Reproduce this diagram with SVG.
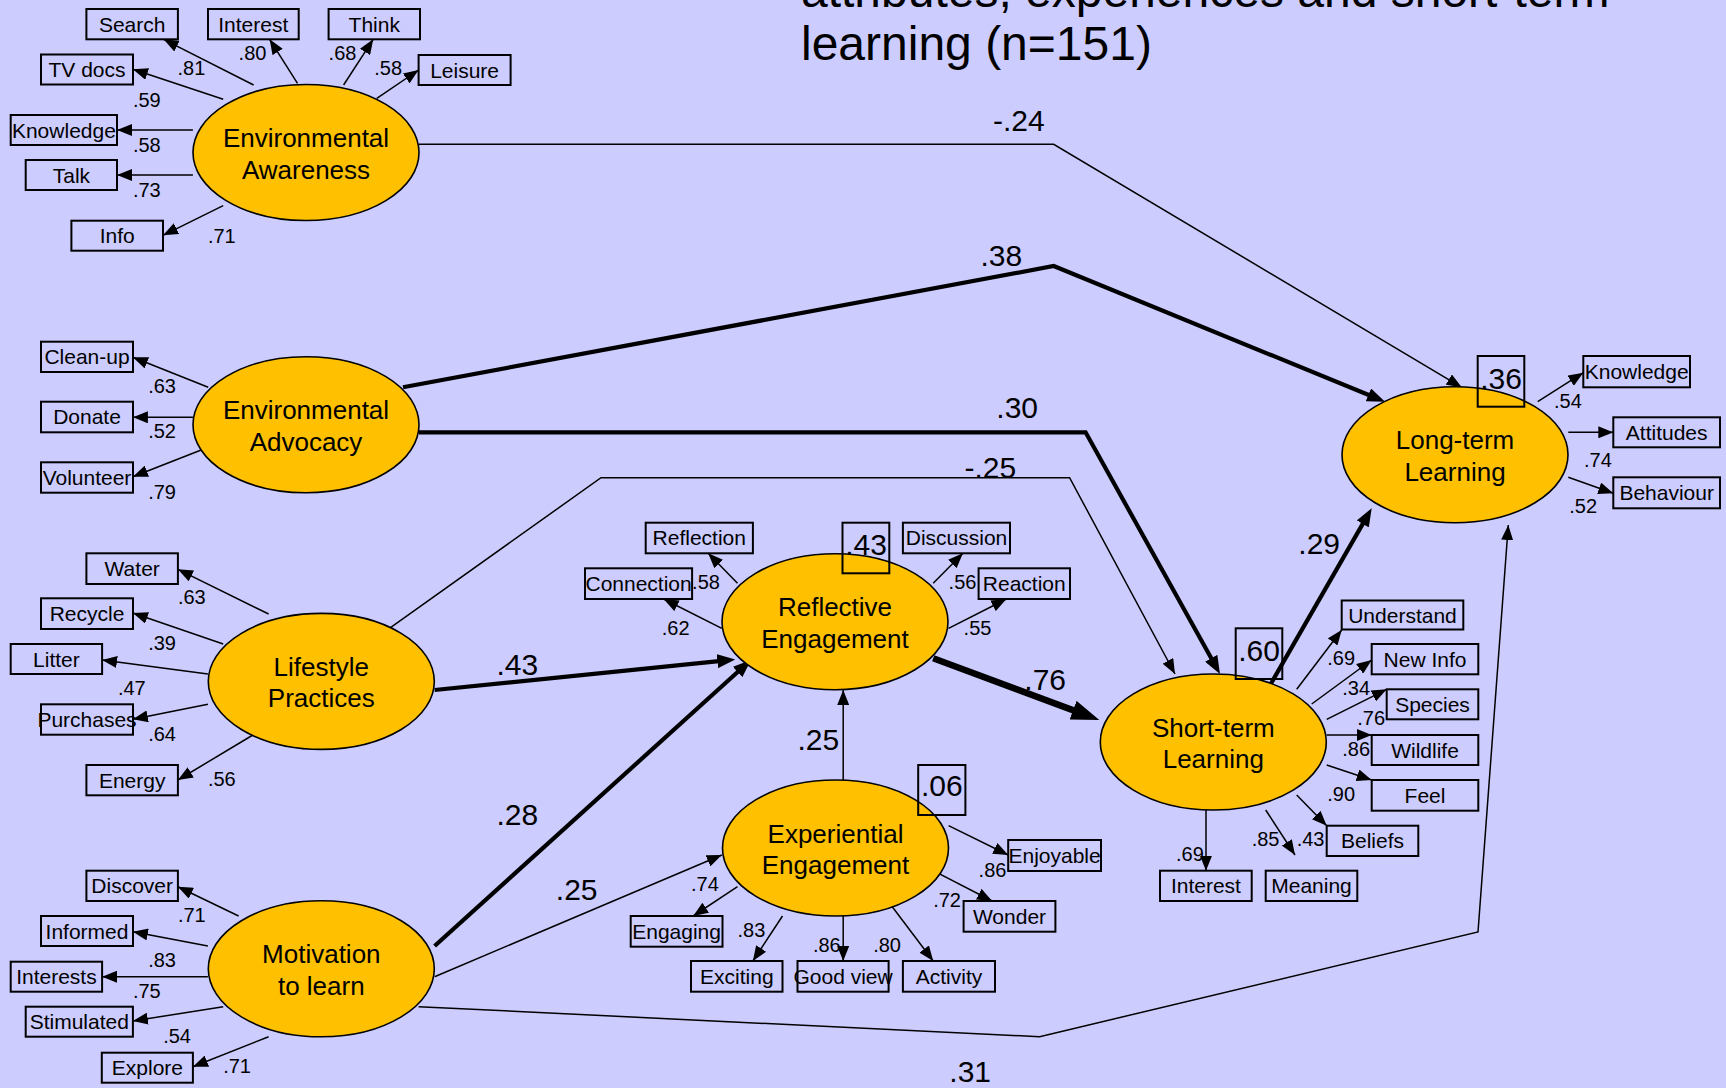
<svg xmlns="http://www.w3.org/2000/svg" width="1726" height="1088" viewBox="0 0 1726 1088">
<style>
text{font-family:"Liberation Sans",Arial,sans-serif;fill:#000}
.lat{fill:#FFC000;stroke:#000;stroke-width:1.6}
.lt{font-size:26px;text-anchor:middle}
.obs{fill:none;stroke:#000;stroke-width:2}
.ot{font-size:21px;text-anchor:middle}
.r2{fill:none;stroke:#000;stroke-width:2}
.rt{font-size:30px;text-anchor:middle}
.ld{font-size:20px}
.big{font-size:30px}
.title{font-size:48px}
.c{fill:none;stroke:#000;stroke-width:1.5;marker-end:url(#ah)}
.ct{fill:none;stroke:#000;stroke-width:4.2;marker-end:url(#aht)}
.cx{fill:none;stroke:#000;stroke-width:6.5;marker-end:url(#ahx)}
</style>
<defs>
<marker id="ah" markerUnits="userSpaceOnUse" markerWidth="15" markerHeight="12" refX="15" refY="6" orient="auto"><path d="M0,0 L15,6 L0,12 z" fill="#000"/></marker>
<marker id="aht" markerUnits="userSpaceOnUse" markerWidth="18" markerHeight="14" refX="9" refY="7" orient="auto"><path d="M0,0 L18,7 L0,14 z" fill="#000"/></marker>
<marker id="ahx" markerUnits="userSpaceOnUse" markerWidth="28" markerHeight="20" refX="14" refY="10" orient="auto"><path d="M0,0 L28,10 L0,20 z" fill="#000"/></marker>
</defs>
<rect x="0" y="0" width="1726" height="1088" fill="#CCCCFF"/>
<g id="title">
<text class="title" x="801" y="7">attributes, experiences and short-term</text>
<text class="title" x="801" y="60">learning (n=151)</text>
</g>

<g id="connectors">
<path class="c" d="M419,144.3 L1053.7,144.3 L1461.7,387.3"/>
<path class="ct" d="M403,387.3 L1053.7,266 L1376.7,398.3"/>
<path class="ct" d="M419,432.3 L1085.6,432.3 L1215.6,666.1"/>
<path class="c" d="M390.8,627.4 L601,477.7 L1069.6,477.7 L1175,674"/>
<path class="ct" d="M434.6,690 L726.3,660.3"/>
<path class="ct" d="M434.6,946 L744.3,666"/>
<path class="c" d="M434.6,976.7 L721.8,855"/>
<path class="c" d="M418.6,1006.7 L1039.6,1036.7 L1478,932 L1508.3,525"/>
<path class="c" d="M843.2,780 L843.2,690"/>
<path class="cx" d="M933.2,658.3 L1086.2,715.1"/>
<path class="ct" d="M1268.3,688.3 L1367.2,516.1"/>
<path class="c" d="M253.6,85 L163.6,39.3"/>
<path class="c" d="M297.5,83.3 L269.6,39.3"/>
<path class="c" d="M343.6,85 L373.2,39.3"/>
<path class="c" d="M376.8,98.3 L418.6,70"/>
<path class="c" d="M223.2,99.3 L132.9,69.3"/>
<path class="c" d="M192.9,130 L117,130"/>
<path class="c" d="M192.9,175 L117,175"/>
<path class="c" d="M223.2,205.7 L163,235.3"/>
<path class="c" d="M208.2,387.3 L132.9,357.3"/>
<path class="c" d="M192.9,417.3 L132.9,417.3"/>
<path class="c" d="M208.2,447.3 L132.9,476.7"/>
<path class="c" d="M268.6,614 L177.9,569.3"/>
<path class="c" d="M223.2,644 L132.9,613"/>
<path class="c" d="M207.9,674 L102.1,660"/>
<path class="c" d="M207.9,704.3 L132.9,719.3"/>
<path class="c" d="M252.9,735 L177.9,780"/>
<path class="c" d="M238.6,916 L177.9,886.7"/>
<path class="c" d="M207.9,946 L132.9,931.7"/>
<path class="c" d="M207.9,976.7 L102.1,976.7"/>
<path class="c" d="M223.2,1006.7 L132.9,1021"/>
<path class="c" d="M268.6,1036.7 L192.9,1066.7"/>
<path class="c" d="M737.5,583.3 L708.2,553.3"/>
<path class="c" d="M721.8,628.3 L663.6,599"/>
<path class="c" d="M933.2,583.3 L962.9,553.3"/>
<path class="c" d="M948.6,628.3 L1006.4,599"/>
<path class="c" d="M948.6,825.7 L1008.2,855"/>
<path class="c" d="M933.2,870.7 L992.1,901"/>
<path class="c" d="M737.5,886.7 L693.2,916"/>
<path class="c" d="M782.5,916 L752.9,961"/>
<path class="c" d="M843.2,916 L843.2,961"/>
<path class="c" d="M887.9,901 L933.2,961"/>
<path class="c" d="M1296.7,689.3 L1341.7,630"/>
<path class="c" d="M1311.7,704 L1371.7,660"/>
<path class="c" d="M1326.7,719.3 L1386.7,689.3"/>
<path class="c" d="M1326.7,735 L1371.7,735"/>
<path class="c" d="M1326.7,765 L1371.7,780"/>
<path class="c" d="M1296.7,795 L1326.7,825.7"/>
<path class="c" d="M1265.7,810 L1295,855"/>
<path class="c" d="M1206,810 L1206,870.7"/>
<path class="c" d="M1537.7,401.7 L1583.3,372.7"/>
<path class="c" d="M1568.3,432.3 L1613.3,432.3"/>
<path class="c" d="M1568.3,477.3 L1613.3,493.3"/>
</g>

<g id="path-labels">
<text class="big" x="993" y="130.7">-.24</text>
<text class="big" x="980.4" y="266">.38</text>
<text class="big" x="996.3" y="418.3">.30</text>
<text class="big" x="964.4" y="477.7">-.25</text>
<text class="big" x="496.4" y="675">.43</text>
<text class="big" x="496.4" y="825">.28</text>
<text class="big" x="1024.3" y="690">.76</text>
<text class="big" x="797.5" y="750">.25</text>
<text class="big" x="555.8" y="900">.25</text>
<text class="big" x="1298.3" y="554">.29</text>
<text class="big" x="949.3" y="1081.7">.31</text>
</g>

<g id="loading-labels">
<text class="ld" x="177.5" y="75">.81</text>
<text class="ld" x="238.6" y="60">.80</text>
<text class="ld" x="328.6" y="60">.68</text>
<text class="ld" x="374.3" y="75">.58</text>
<text class="ld" x="132.9" y="106.7">.59</text>
<text class="ld" x="132.9" y="151.7">.58</text>
<text class="ld" x="132.9" y="196.7">.73</text>
<text class="ld" x="207.9" y="242.7">.71</text>
<text class="ld" x="148.2" y="392.7">.63</text>
<text class="ld" x="148.2" y="438.3">.52</text>
<text class="ld" x="148.2" y="499.3">.79</text>
<text class="ld" x="177.9" y="604.3">.63</text>
<text class="ld" x="148.2" y="650">.39</text>
<text class="ld" x="117.9" y="695">.47</text>
<text class="ld" x="148.2" y="740.7">.64</text>
<text class="ld" x="207.9" y="785.7">.56</text>
<text class="ld" x="177.9" y="921.7">.71</text>
<text class="ld" x="148.2" y="966.7">.83</text>
<text class="ld" x="132.9" y="997.7">.75</text>
<text class="ld" x="163.2" y="1042.7">.54</text>
<text class="ld" x="223.2" y="1073.3">.71</text>
<text class="ld" x="692.1" y="589.3">.58</text>
<text class="ld" x="661.8" y="635">.62</text>
<text class="ld" x="948.6" y="589.3">.56</text>
<text class="ld" x="963.6" y="635">.55</text>
<text class="ld" x="978.6" y="877.3">.86</text>
<text class="ld" x="933.2" y="906.7">.72</text>
<text class="ld" x="691" y="891">.74</text>
<text class="ld" x="737.5" y="936.7">.83</text>
<text class="ld" x="812.9" y="951.7">.86</text>
<text class="ld" x="873.2" y="951.7">.80</text>
<text class="ld" x="1327.3" y="665">.69</text>
<text class="ld" x="1342.3" y="695">.34</text>
<text class="ld" x="1357.3" y="725">.76</text>
<text class="ld" x="1342.3" y="756">.86</text>
<text class="ld" x="1327.3" y="801">.90</text>
<text class="ld" x="1296.7" y="846">.43</text>
<text class="ld" x="1251.7" y="846">.85</text>
<text class="ld" x="1176" y="861">.69</text>
<text class="ld" x="1554" y="407.7">.54</text>
<text class="ld" x="1584" y="467.3">.74</text>
<text class="ld" x="1569.3" y="513.3">.52</text>
</g>

<g id="env-awareness"><ellipse class="lat" cx="306" cy="152.5" rx="113" ry="68"/><text class="lt" x="306" y="147">Environmental</text><text class="lt" x="306" y="178.5">Awareness</text></g>
<g id="env-advocacy"><ellipse class="lat" cx="306" cy="424.7" rx="113" ry="68"/><text class="lt" x="306" y="419.2">Environmental</text><text class="lt" x="306" y="450.7">Advocacy</text></g>
<g id="lifestyle"><ellipse class="lat" cx="321.3" cy="681.4" rx="113" ry="68"/><text class="lt" x="321.3" y="675.9">Lifestyle</text><text class="lt" x="321.3" y="707.4">Practices</text></g>
<g id="motivation"><ellipse class="lat" cx="321.3" cy="968.8" rx="113" ry="68"/><text class="lt" x="321.3" y="963.3">Motivation</text><text class="lt" x="321.3" y="994.8">to learn</text></g>
<g id="reflective"><ellipse class="lat" cx="835" cy="621.7" rx="113" ry="68"/><text class="lt" x="835" y="616.2">Reflective</text><text class="lt" x="835" y="647.7">Engagement</text></g>
<g id="experiential"><ellipse class="lat" cx="835.5" cy="848" rx="113" ry="68"/><text class="lt" x="835.5" y="842.5">Experiential</text><text class="lt" x="835.5" y="874">Engagement</text></g>
<g id="short-term"><ellipse class="lat" cx="1213.3" cy="742" rx="113" ry="68"/><text class="lt" x="1213.3" y="736.5">Short-term</text><text class="lt" x="1213.3" y="768">Learning</text></g>
<g id="long-term"><ellipse class="lat" cx="1455" cy="454.7" rx="113" ry="68"/><text class="lt" x="1455" y="449.2">Long-term</text><text class="lt" x="1455" y="480.7">Learning</text></g>

<g id="r2-reflective"><rect class="r2" x="842.5" y="522.7" width="46.8" height="50.6"/><text class="rt" x="866" y="555">.43</text></g>
<g id="r2-experiential"><rect class="r2" x="918.2" y="765" width="47.2" height="50"/><text class="rt" x="941.8" y="796">.06</text></g>
<g id="r2-short-term"><rect class="r2" x="1235.7" y="628.3" width="46.6" height="50.7"/><text class="rt" x="1259" y="661">.60</text></g>
<g id="r2-long-term"><rect class="r2" x="1477.7" y="356" width="46.6" height="50.7"/><text class="rt" x="1501" y="389.3">.36</text></g>

<g id="ea-search"><rect class="obs" x="86.4" y="9" width="91.5" height="30.3"/><text class="ot" x="132.2" y="31.5">Search</text></g>
<g id="ea-interest"><rect class="obs" x="208" y="9" width="90.7" height="30.3"/><text class="ot" x="253.3" y="31.5">Interest</text></g>
<g id="ea-think"><rect class="obs" x="328.6" y="9" width="91.4" height="30.3"/><text class="ot" x="374.3" y="31.5">Think</text></g>
<g id="ea-leisure"><rect class="obs" x="418.6" y="55" width="92" height="30"/><text class="ot" x="464.6" y="77.5">Leisure</text></g>
<g id="ea-tvdocs"><rect class="obs" x="41" y="54.5" width="92" height="30"/><text class="ot" x="87" y="77">TV docs</text></g>
<g id="ea-knowledge"><rect class="obs" x="10.7" y="115" width="106.3" height="30"/><text class="ot" x="63.9" y="137.5">Knowledge</text></g>
<g id="ea-talk"><rect class="obs" x="25.7" y="160" width="91.3" height="30"/><text class="ot" x="71.4" y="182.5">Talk</text></g>
<g id="ea-info"><rect class="obs" x="71.4" y="220.7" width="91.6" height="30"/><text class="ot" x="117.2" y="243.2">Info</text></g>

<g id="adv-cleanup"><rect class="obs" x="41" y="341.7" width="92" height="30.3"/><text class="ot" x="87" y="364.2">Clean-up</text></g>
<g id="adv-donate"><rect class="obs" x="41" y="401.7" width="92" height="30.6"/><text class="ot" x="87" y="424.2">Donate</text></g>
<g id="adv-volunteer"><rect class="obs" x="41" y="462.3" width="92" height="30.4"/><text class="ot" x="87" y="484.8">Volunteer</text></g>

<g id="lp-water"><rect class="obs" x="86.4" y="553.3" width="91.5" height="30.7"/><text class="ot" x="132.2" y="575.8">Water</text></g>
<g id="lp-recycle"><rect class="obs" x="41" y="598.3" width="92" height="30.7"/><text class="ot" x="87" y="620.8">Recycle</text></g>
<g id="lp-litter"><rect class="obs" x="10.7" y="644" width="91.4" height="30"/><text class="ot" x="56.4" y="666.5">Litter</text></g>
<g id="lp-purchases"><rect class="obs" x="41" y="704.3" width="92" height="30.4"/><text class="ot" x="87" y="726.8">Purchases</text></g>
<g id="lp-energy"><rect class="obs" x="86.4" y="765" width="91.5" height="30.3"/><text class="ot" x="132.2" y="787.5">Energy</text></g>

<g id="ml-discover"><rect class="obs" x="86.4" y="870.7" width="91.5" height="30.3"/><text class="ot" x="132.2" y="893.2">Discover</text></g>
<g id="ml-informed"><rect class="obs" x="41" y="916" width="92" height="30"/><text class="ot" x="87" y="938.5">Informed</text></g>
<g id="ml-interests"><rect class="obs" x="10.7" y="961.7" width="91.4" height="30"/><text class="ot" x="56.4" y="984.2">Interests</text></g>
<g id="ml-stimulated"><rect class="obs" x="25.7" y="1006.7" width="107.2" height="30"/><text class="ot" x="79.3" y="1029.2">Stimulated</text></g>
<g id="ml-explore"><rect class="obs" x="101.8" y="1052.7" width="91.1" height="30"/><text class="ot" x="147.4" y="1075.2">Explore</text></g>

<g id="re-reflection"><rect class="obs" x="645.7" y="522.7" width="107.2" height="30.6"/><text class="ot" x="699.3" y="545.2">Reflection</text></g>
<g id="re-connection"><rect class="obs" x="585" y="568.3" width="107.1" height="30.7"/><text class="ot" x="638.6" y="590.8">Connection</text></g>
<g id="re-discussion"><rect class="obs" x="902.9" y="522.7" width="107.1" height="30.6"/><text class="ot" x="956.5" y="545.2">Discussion</text></g>
<g id="re-reaction"><rect class="obs" x="978.6" y="568.3" width="91.4" height="30.7"/><text class="ot" x="1024.3" y="590.8">Reaction</text></g>

<g id="ee-enjoyable"><rect class="obs" x="1008.2" y="840" width="92.8" height="31"/><text class="ot" x="1054.6" y="862.5">Enjoyable</text></g>
<g id="ee-wonder"><rect class="obs" x="963.6" y="901" width="91.8" height="30.7"/><text class="ot" x="1009.5" y="923.5">Wonder</text></g>
<g id="ee-engaging"><rect class="obs" x="630.7" y="916" width="91.8" height="30.7"/><text class="ot" x="676.6" y="938.5">Engaging</text></g>
<g id="ee-exciting"><rect class="obs" x="691" y="961" width="91.5" height="30.7"/><text class="ot" x="736.8" y="983.5">Exciting</text></g>
<g id="ee-goodview"><rect class="obs" x="797.5" y="961" width="91.1" height="30.7"/><text class="ot" x="843.1" y="983.5">Good view</text></g>
<g id="ee-activity"><rect class="obs" x="902.9" y="961" width="92.1" height="30.7"/><text class="ot" x="949" y="983.5">Activity</text></g>

<g id="stl-understand"><rect class="obs" x="1341.7" y="600.5" width="121.6" height="29"/><text class="ot" x="1402.5" y="622.5">Understand</text></g>
<g id="stl-newinfo"><rect class="obs" x="1371.7" y="644" width="106.6" height="30.3"/><text class="ot" x="1425" y="666.5">New Info</text></g>
<g id="stl-species"><rect class="obs" x="1386.7" y="689.3" width="91.6" height="30"/><text class="ot" x="1432.5" y="711.8">Species</text></g>
<g id="stl-wildlife"><rect class="obs" x="1371.7" y="735" width="106.6" height="30"/><text class="ot" x="1425" y="757.5">Wildlife</text></g>
<g id="stl-feel"><rect class="obs" x="1371.7" y="780" width="106.6" height="30.7"/><text class="ot" x="1425" y="802.5">Feel</text></g>
<g id="stl-beliefs"><rect class="obs" x="1326.7" y="825.7" width="91.6" height="30.3"/><text class="ot" x="1372.5" y="848.2">Beliefs</text></g>
<g id="stl-interest"><rect class="obs" x="1160" y="870.7" width="91.7" height="30.3"/><text class="ot" x="1205.9" y="893.2">Interest</text></g>
<g id="stl-meaning"><rect class="obs" x="1265.7" y="870.7" width="91.6" height="30.3"/><text class="ot" x="1311.5" y="893.2">Meaning</text></g>

<g id="ltl-knowledge"><rect class="obs" x="1583.3" y="356" width="106.7" height="31.3"/><text class="ot" x="1636.7" y="379">Knowledge</text></g>
<g id="ltl-attitudes"><rect class="obs" x="1613.3" y="417.3" width="106.7" height="30"/><text class="ot" x="1666.7" y="439.8">Attitudes</text></g>
<g id="ltl-behaviour"><rect class="obs" x="1613.3" y="477.3" width="106.7" height="31"/><text class="ot" x="1666.7" y="500">Behaviour</text></g>
</svg>
